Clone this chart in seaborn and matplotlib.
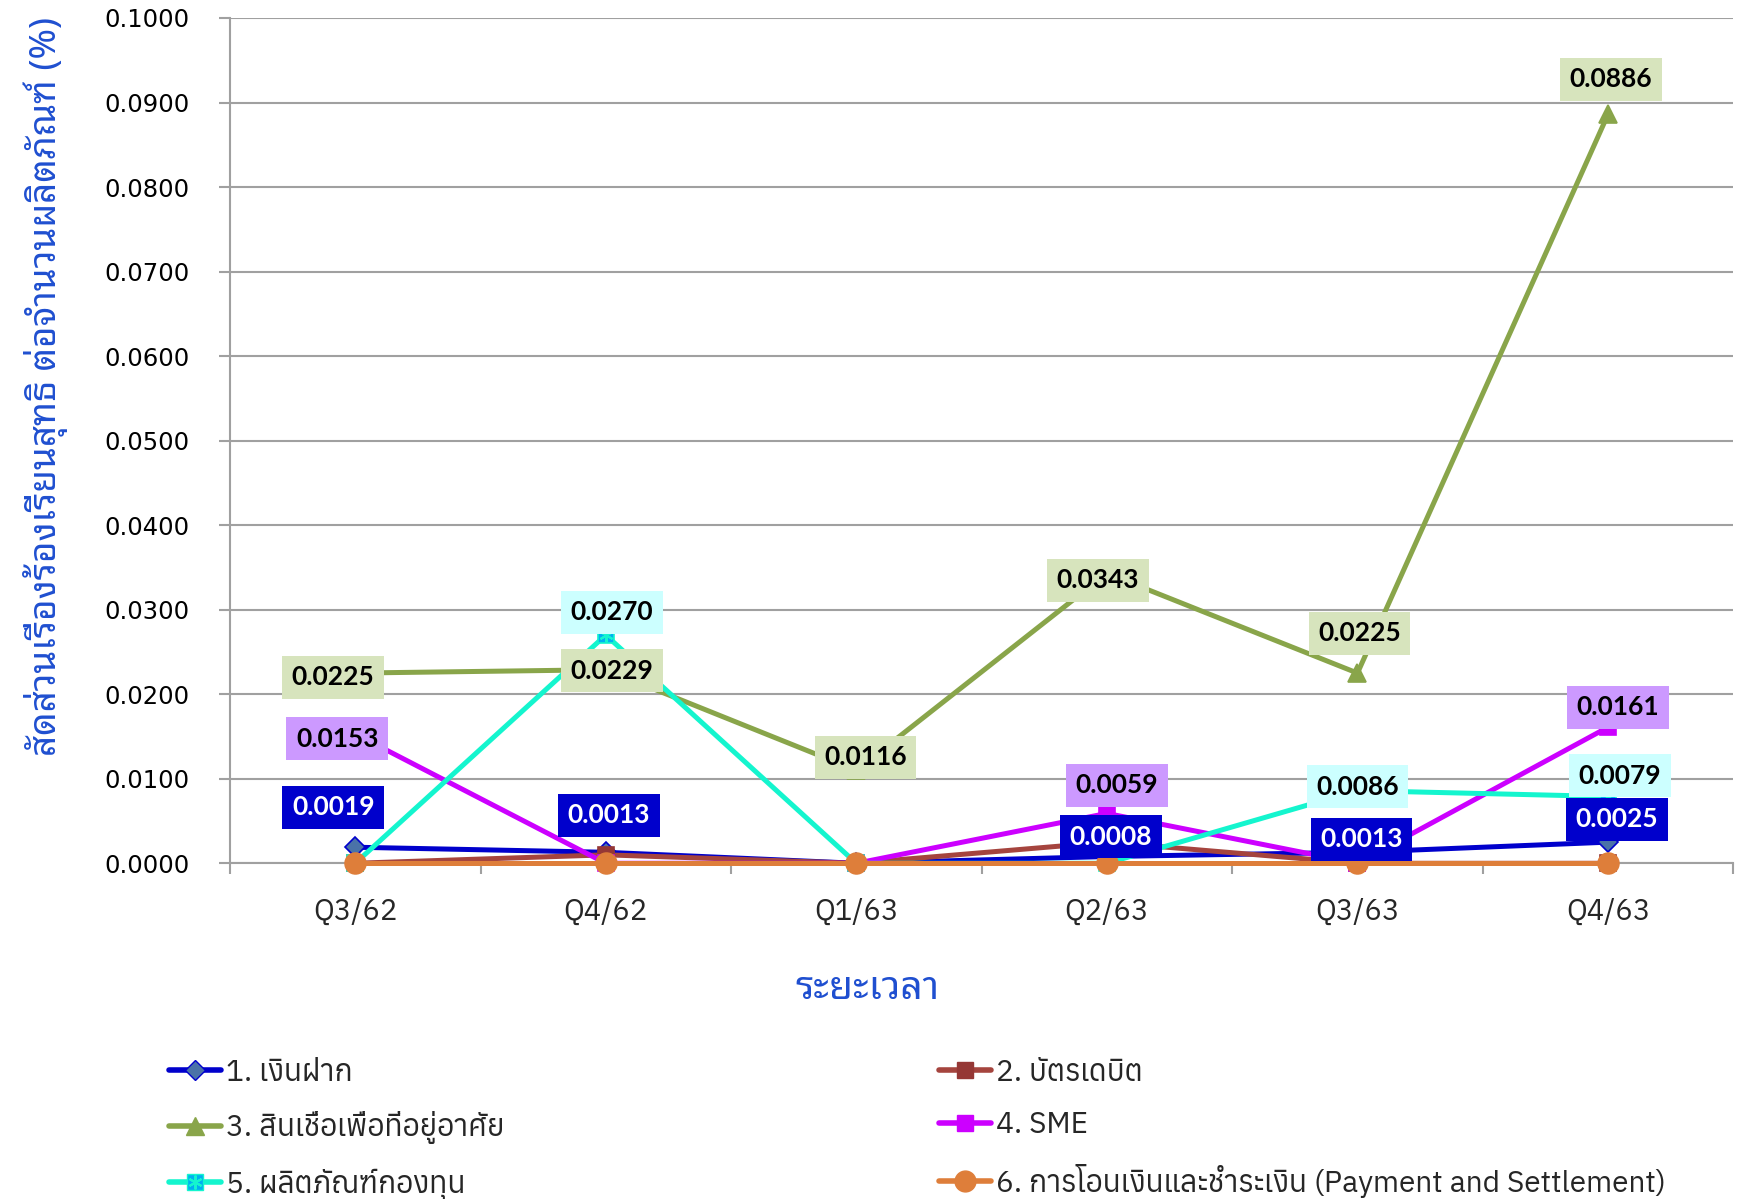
import matplotlib
matplotlib.use("Agg")
import matplotlib.pyplot as plt
from matplotlib import font_manager
from matplotlib.lines import Line2D
from matplotlib.legend_handler import HandlerTuple
import seaborn as sns
import numpy as np
import pandas as pd

# ---------------- data ----------------
quarters = ["Q3/62", "Q4/62", "Q1/63", "Q2/63", "Q3/63", "Q4/63"]
deposit = [0.0019, 0.0013, 0.0000, 0.0008, 0.0013, 0.0025]
debit_card = [0.0000, 0.0010, 0.0000, 0.0025, 0.0000, 0.0000]
housing_loan = [0.0225, 0.0229, 0.0110, 0.0343, 0.0225, 0.0886]
housing_labels = [0.0225, 0.0229, 0.0116, 0.0343, 0.0225, 0.0886]
sme = [0.0153, 0.0000, 0.0000, 0.0059, 0.0000, 0.0161]
fund = [0.0000, 0.0270, 0.0000, 0.0000, 0.0086, 0.0079]
payment = [0.0000, 0.0000, 0.0000, 0.0000, 0.0000, 0.0000]

series_names = ["1. เงินฝาก", "2. บัตรเดบิต", "3. สินเชื่อเพื่อที่อยู่อาศัย",
                "4. SME", "5. ผลิตภัณฑ์กองทุน",
                "6. การโอนเงินและชำระเงิน (Payment and Settlement)"]
y_title = "สัดส่วนเรื่องร้องเรียนสุทธิ ต่อจำนวนผลิตภัณฑ์ (%)"
x_title = "ระยะเวลา"
y_ticks = [0.0, 0.01, 0.02, 0.03, 0.04, 0.05, 0.06, 0.07, 0.08, 0.09, 0.10]

# ---------------- fonts ----------------
available = {f.name for f in font_manager.fontManager.ttflist}
def pick(cands, default="DejaVu Sans"):
    for c in cands:
        if c in available:
            return c
    return default

thai_loopless = pick(["Anuphan", "Noto Sans Thai", "IBM Plex Sans Thai", "Bai Jamjuree", "Athiti"])
thai_looped = pick(["Noto Sans Thai Looped", "Sarabun", "Noto Serif Thai", "Athiti", thai_loopless])
num_font = pick(["Lato", "Open Sans"])

sns.set_theme(style="white")
plt.rcParams["font.family"] = ["DejaVu Sans"]

fig = plt.figure(figsize=(17.42, 11.99), dpi=100)
ax = fig.add_axes([0.132, 0.280, 0.863, 0.705])

styles = [
    dict(color="#0000CC", marker="D", mfc="#4A72A8", mec="#0000CC", ms=10),
    dict(color="#A5443E", marker="s", mfc="#953735", mec="#953735", ms=11),
    dict(color="#89A54A", marker="^", mfc="#89A54A", mec="#89A54A", ms=13),
    dict(color="#CC00FF", marker="s", mfc="#CC00FF", mec="#CC00FF", ms=11),
    dict(color="#14F5CE", marker="s", mfc="#00B0F0", mec="#14F5CE", ms=12),
    dict(color="#DE7E3A", marker="o", mfc="#DE7E3A", mec="#DE7E3A", ms=15),
]
all_values = [deposit, debit_card, housing_loan, sme, fund, payment]
xpos = np.arange(len(quarters))

for i, (vals, st) in enumerate(zip(all_values, styles)):
    df = pd.DataFrame({"x": xpos, "y": vals})
    sns.lineplot(data=df, x="x", y="y", ax=ax, color=st["color"], linewidth=3.6,
                 marker=st["marker"], markersize=st["ms"],
                 markerfacecolor=st["mfc"], markeredgecolor=st["mec"],
                 markeredgewidth=1.2, zorder=3 + i, legend=False, clip_on=False)
    if i == 4:
        ax.plot(xpos, vals, linestyle="none", marker=(6, 2, 0), markersize=10,
                markeredgecolor="#14F5CE", markeredgewidth=1.5, zorder=3 + i, clip_on=False)

ax.set_xlim(-0.5, len(quarters) - 0.5)
ax.set_ylim(0, 0.10)
ax.set_yticks(y_ticks)
ax.set_yticklabels([f"{v:.4f}" for v in y_ticks], fontsize=17.5, color="black")
ax.set_xticks(xpos)
ax.set_xticklabels(quarters, fontsize=21, family=[thai_loopless, "DejaVu Sans"])
ax.set_xticks(np.arange(-0.5, len(quarters)), minor=True)
ax.tick_params(axis="x", which="major", length=0, pad=25)
ax.tick_params(axis="x", which="minor", length=8, width=1.5, color="#A0A0A0", direction="out", bottom=True)
ax.tick_params(axis="y", which="major", length=8, width=1.5, color="#A0A0A0", direction="out", left=True, pad=21)
ax.set_xlabel("")
ax.set_ylabel("")
ax.grid(axis="y", color="#A0A0A0", linewidth=1.5, zorder=0)
ax.grid(axis="x", visible=False)
for s in ["top", "right"]:
    ax.spines[s].set_visible(False)
for s in ["left", "bottom"]:
    ax.spines[s].set_color("#A0A0A0")
    ax.spines[s].set_linewidth(1.5)

# ---------------- data labels ----------------
label_style = {
    0: ("#0000CC", "white"),
    2: ("#D7E4BD", "black"),
    3: ("#CC99FF", "black"),
    4: ("#CCFFFF", "black"),
}
offsets = {
    (2, 0): (-22, -4), (2, 1): (6, -1), (2, 2): (9, 13), (2, 3): (-9, -7),
    (2, 4): (2, 40), (2, 5): (3, 35),
    (4, 1): (6, 23), (4, 4): (0, 4), (4, 5): (12, 21),
    (3, 0): (-18, -5), (3, 3): (10, 28), (3, 5): (10, 20),
    (0, 0): (-22, 40), (0, 1): (3, 37), (0, 3): (4, 20), (0, 4): (4, 13), (0, 5): (9, 23),
}
label_values = {0: deposit, 2: housing_labels, 3: sme, 4: fund}
for (si, qi), (dx, dy) in offsets.items():
    fc, tc = label_style[si]
    v = label_values[si][qi]
    ax.annotate(f"{v:.4f}", xy=(qi, all_values[si][qi]), xytext=(dx, dy),
                textcoords="offset pixels", ha="center", va="center",
                fontsize=19, fontweight="bold", color=tc, family=[num_font, "DejaVu Sans"],
                bbox=dict(boxstyle="square,pad=0.36", fc=fc, ec="none"), zorder=20)

# ---------------- titles ----------------
fig.text(0.498, 0.175, x_title, ha="center", va="center", fontsize=28, fontweight="bold",
         color="#1F4FD0", family=[thai_looped, "DejaVu Sans"])
fig.text(0.026, 0.678, y_title, ha="center", va="center", rotation=90, fontsize=26.5,
         color="#1F4FD0", family=[thai_looped, "DejaVu Sans"])

# ---------------- legend ----------------
handles = []
for i, st in enumerate(styles):
    h = Line2D([], [], color=st["color"], linewidth=4, marker=st["marker"], markersize=st["ms"],
               markerfacecolor=st["mfc"], markeredgecolor=st["mec"])
    if i == 4:
        h2 = Line2D([], [], linestyle="none", marker=(6, 2, 0), markersize=10,
                    markeredgecolor="#14F5CE", markeredgewidth=1.5)
        h = (h, h2)
    handles.append(h)

leg_kw = dict(frameon=False, handlelength=1.75, handletextpad=0.15, labelspacing=0.82,
              borderpad=0, borderaxespad=0,
              prop=font_manager.FontProperties(family=[thai_loopless, "DejaVu Sans"], size=21.5),
              handler_map={tuple: HandlerTuple(ndivide=1, pad=0)})
leg1 = fig.legend([handles[0], handles[2], handles[4]],
                  [series_names[0], series_names[2], series_names[4]],
                  loc="upper left", bbox_to_anchor=(0.097, 0.117), **leg_kw)
leg2 = fig.legend([handles[1], handles[3], handles[5]],
                  [series_names[1], series_names[3], series_names[5]],
                  loc="upper left", bbox_to_anchor=(0.539, 0.117), **leg_kw)

fig.savefig("out.png", dpi=100)
